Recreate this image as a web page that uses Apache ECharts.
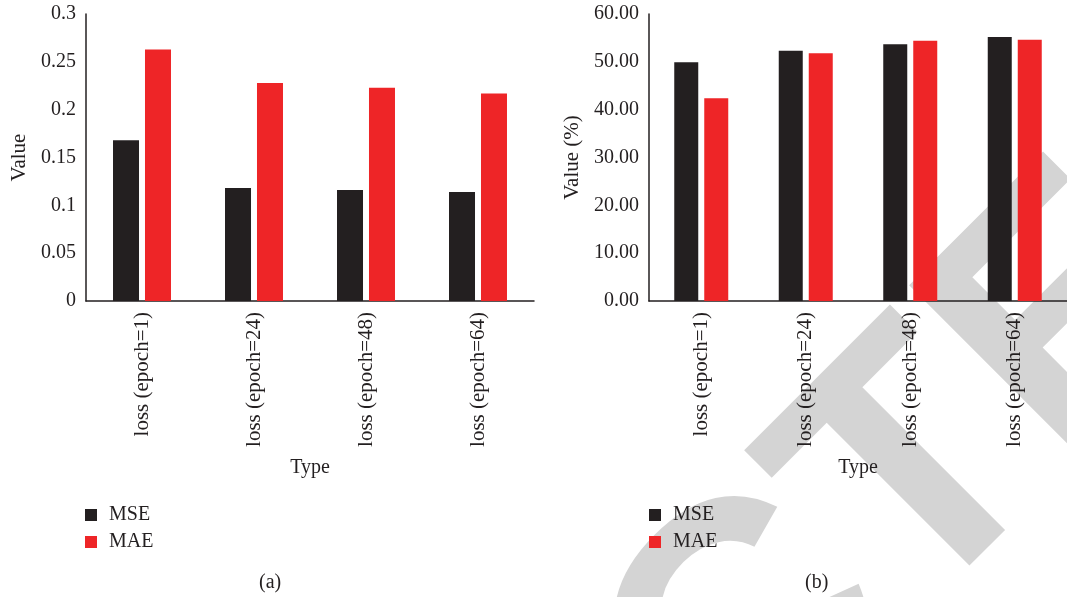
<!DOCTYPE html>
<html>
<head>
<meta charset="utf-8">
<script src="https://cdn.jsdelivr.net/npm/echarts@6/dist/echarts.min.js"></script>
<style>
  html, body { margin: 0; padding: 0; background: #fff; }
  #main { width: 1067px; height: 597px; }
</style>
</head>
<body>
<div id="main"></div>
<script>
// data
const categories = ['loss (epoch=1)', 'loss (epoch=24)', 'loss (epoch=48)', 'loss (epoch=64)'];
const mseLoss = [0.168, 0.118, 0.116, 0.114];
const maeLoss = [0.263, 0.228, 0.223, 0.217];
const msePct = [49.9, 52.3, 53.7, 55.2];
const maePct = [42.4, 51.8, 54.4, 54.6];

const FONT = 'Liberation Serif';
const INK = '#231f20';
const RED = '#ee2527';

const chart = echarts.init(document.getElementById('main'));

function xAxisFor(gridIndex) {
  return {
    type: 'category',
    gridIndex: gridIndex,
    data: categories,
    name: 'Type',
    nameLocation: 'middle',
    nameGap: 157,
    nameTextStyle: { fontFamily: FONT, fontSize: 20, color: INK },
    axisLine: { lineStyle: { color: INK, width: 1.5 } },
    axisTick: { show: false },
    axisLabel: { rotate: 90, margin: 11, fontFamily: FONT, fontSize: 21, color: INK, interval: 0 }
  };
}

function yAxisFor(gridIndex, opts) {
  return Object.assign({
    type: 'value',
    gridIndex: gridIndex,
    nameLocation: 'middle',
    nameTextStyle: { fontFamily: FONT, fontSize: 21, color: INK },
    axisLine: { show: true, lineStyle: { color: INK, width: 1.5 } },
    axisTick: { show: false },
    splitLine: { show: false }
  }, opts);
}

function legendAt(left, names) {
  return {
    data: names.map(n => ({ name: n })),
    orient: 'vertical', left: left, top: 505,
    icon: 'rect', itemWidth: 12, itemHeight: 12, itemGap: 7, padding: 0,
    textStyle: { fontFamily: FONT, fontSize: 20, color: INK, padding: [0, 0, 0, 7] },
    selectedMode: false
  };
}

const option = {
  backgroundColor: '#fff',
  animation: false,
  grid: [
    { left: 86, top: 14, width: 448, height: 287 },
    { left: 649, top: 14, width: 424, height: 287 }
  ],
  xAxis: [xAxisFor(0), xAxisFor(1)],
  yAxis: [
    yAxisFor(0, {
      min: 0, max: 0.3, interval: 0.05,
      name: 'Value', nameGap: 56,
      axisLabel: { margin: 10, fontFamily: FONT, fontSize: 20, color: INK }
    }),
    yAxisFor(1, {
      min: 0, max: 60, interval: 10,
      name: 'Value (%)', nameGap: 66,
      axisLabel: {
        margin: 10, fontFamily: FONT, fontSize: 20, color: INK,
        formatter: v => v.toFixed(2)
      }
    })
  ],
  legend: [legendAt(85, ['MSE', 'MAE']), legendAt(649, ['MSE ', 'MAE '])],
  graphic: [
    {
      // "RETRACTED" stamp behind panel (b)
      type: 'text', z: -10, x: -64, y: 1710, rotation: Math.PI / 4, silent: true,
      style: {
        text: 'RETRACTED', fill: '#d4d4d4',
        font: 'bold 350px "Liberation Sans"',
        textAlign: 'left', textVerticalAlign: 'bottom'
      }
    },
    {
      type: 'text', left: 259, top: 573,
      style: { text: '(a)', font: '20px "Liberation Serif"', fill: INK }
    },
    {
      type: 'text', left: 805, top: 573,
      style: { text: '(b)', font: '20px "Liberation Serif"', fill: INK }
    }
  ],
  series: [
    { name: 'MSE', type: 'bar', xAxisIndex: 0, yAxisIndex: 0, data: mseLoss,
      barWidth: 26, barGap: '23%', itemStyle: { color: INK } },
    { name: 'MAE', type: 'bar', xAxisIndex: 0, yAxisIndex: 0, data: maeLoss,
      barWidth: 26, barGap: '23%', itemStyle: { color: RED } },
    { name: 'MSE ', type: 'bar', xAxisIndex: 1, yAxisIndex: 1, data: msePct,
      barWidth: 24, barGap: '25%', itemStyle: { color: INK } },
    { name: 'MAE ', type: 'bar', xAxisIndex: 1, yAxisIndex: 1, data: maePct,
      barWidth: 24, barGap: '25%', itemStyle: { color: RED } }
  ]
};

chart.setOption(option);
</script>
</body>
</html>
